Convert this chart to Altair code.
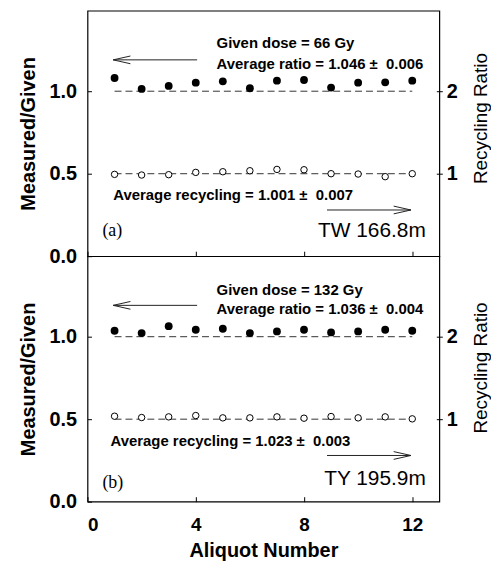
import altair as alt
import pandas as pd

# ---------------- data ----------------
aliquot = list(range(1, 13))
ratio_a = [1.080, 1.014, 1.032, 1.052, 1.060, 1.018, 1.064, 1.068, 1.022, 1.052, 1.054, 1.064]
recyc_a = [0.992, 0.984, 0.988, 1.016, 1.024, 1.036, 1.052, 1.048, 1.000, 0.996, 0.964, 1.000]
ratio_b = [1.036, 1.022, 1.064, 1.042, 1.048, 1.022, 1.032, 1.042, 1.026, 1.032, 1.042, 1.036]
recyc_b = [1.036, 1.020, 1.028, 1.044, 1.016, 1.016, 1.028, 1.012, 1.032, 1.016, 1.028, 1.004]

NB = "\u00a0"
dose_text = ["Given dose = 66 Gy", "Given dose = 132 Gy"]
ratio_text = ["Average ratio = 1.046 \u00b1" + NB + " 0.006",
              "Average ratio = 1.036 \u00b1" + NB + " 0.004"]
recyc_text = ["Average recycling = 1.001 \u00b1" + NB + " 0.007",
              "Average recycling = 1.023 \u00b1" + NB + " 0.003"]
panel_tag = ["(a)", "(b)"]
site_text = ["TW 166.8m", "TY 195.9m"]

x_ticks = [0, 4, 8, 12]
left_ticks = [0.0, 0.5, 1.0]
right_ticks = [1, 2]

X_DOM = [0, 13]
YL_DOM = [0, 1.488]
YR_DOM = [0, 2.976]

W, H = 354, 247
FONT = "Liberation Sans"

LEFT_ARROW = "M0,0 L2,-0.45 M0,0 L2,0.45"
RIGHT_ARROW = "M0,0 L-2,-0.45 M0,0 L-2,0.45"


def panel(ratio, recyc, i, bottom):
    xs = alt.Scale(domain=X_DOM, nice=False)
    yl = alt.Scale(domain=YL_DOM, nice=False)
    yr = alt.Scale(domain=YR_DOM, nice=False)

    if bottom:
        xaxis = alt.Axis(values=x_ticks, format="d", title="Aliquot Number",
                         offset=-5, tickSize=5, domain=False, grid=False,
                         labelPadding=14, labelFontSize=19, labelFontWeight="bold",
                         titleFontSize=20, titleFontWeight="bold", titlePadding=6)
    else:
        xaxis = alt.Axis(values=x_ticks, labels=False, title=None,
                         offset=-5, tickSize=5, domain=False, grid=False)

    laxis = alt.Axis(values=left_ticks, format=".1f", title="Measured/Given",
                     offset=-4, tickSize=4, domain=False, grid=False,
                     labelPadding=11, labelFontSize=20, labelFontWeight="bold",
                     titleFontSize=20, titleFontWeight="bold", titlePadding=11)
    raxis = alt.Axis(orient="right", values=right_ticks, format="d",
                     title="Recycling Ratio", offset=-3, tickSize=6,
                     domain=False, grid=False, labelPadding=4,
                     labelFontSize=20, labelFontWeight="bold",
                     titleFontSize=19, titleFontWeight="normal",
                     titleAngle=270, titleBaseline="top", titlePadding=14,
                     titleY=108 if i == 0 else 112)

    pts = pd.DataFrame({"n": aliquot, "v": ratio})
    rec = pd.DataFrame({"n": aliquot, "v": recyc})
    ref_l = pd.DataFrame({"x1": [1], "x2": [12], "y": [1.0]})
    ref_r = pd.DataFrame({"x1": [1], "x2": [12], "y": [1.0]})

    ann = pd.DataFrame({
        "x": [4.77, 4.77, 0.95 if i == 0 else 0.85],
        "y": [1.29 if i == 0 else 1.28, 1.165, 0.37],
        "t": [dose_text[i], ratio_text[i], recyc_text[i]],
    })
    tag = pd.DataFrame({"x": [0.55], "y": [0.15 if i == 0 else 0.11], "t": [panel_tag[i]]})
    site = pd.DataFrame({"x": [12.5], "y": [0.155 if i == 0 else 0.14], "t": [site_text[i]]})
    shafts = pd.DataFrame({"x1": [0.95, 8.85], "x2": [4.05, 11.95],
                           "y": [1.19, 0.28]})
    lhead = pd.DataFrame({"x": [0.95], "y": [1.19]})
    rhead = pd.DataFrame({"x": [11.95], "y": [0.28]})

    X = lambda f: alt.X(f, type="quantitative", scale=xs, axis=xaxis)
    YL = lambda f: alt.Y(f, type="quantitative", scale=yl, axis=laxis)
    YR = lambda f: alt.Y(f, type="quantitative", scale=yr, axis=raxis)

    left = alt.layer(
        alt.Chart(ref_l).mark_rule(color="#333", strokeWidth=1, strokeDash=[7, 4]).encode(
            x=X("x1"), x2="x2", y=YL("y")),
        alt.Chart(pts).mark_point(filled=True, color="black", size=62, opacity=1).encode(
            x=X("n"), y=YL("v")),
        alt.Chart(ann).mark_text(align="left", baseline="middle", font=FONT,
                                 fontSize=15, fontWeight="bold", color="black").encode(
            x=X("x"), y=YL("y"), text="t:N"),
        alt.Chart(tag).mark_text(align="left", baseline="middle", font="Liberation Serif",
                                 fontSize=18, color="black").encode(
            x=X("x"), y=YL("y"), text="t:N"),
        alt.Chart(site).mark_text(align="right", baseline="middle", font=FONT,
                                  fontSize=21, color="black").encode(
            x=X("x"), y=YL("y"), text="t:N"),
        alt.Chart(shafts).mark_rule(color="#222", strokeWidth=1).encode(
            x=X("x1"), x2="x2", y=YL("y")),
        alt.Chart(lhead).mark_point(shape=LEFT_ARROW, size=300, filled=False,
                                    color="#222", strokeWidth=1, opacity=1).encode(
            x=X("x"), y=YL("y")),
        alt.Chart(rhead).mark_point(shape=RIGHT_ARROW, size=300, filled=False,
                                    color="#222", strokeWidth=1, opacity=1).encode(
            x=X("x"), y=YL("y")),
    )
    right = alt.layer(
        alt.Chart(ref_r).mark_rule(color="#333", strokeWidth=1, strokeDash=[7, 4]).encode(
            x=X("x1"), x2="x2", y=YR("y")),
        alt.Chart(rec).mark_point(fill="white", stroke="black", strokeWidth=1,
                                  size=42, opacity=1, fillOpacity=1).encode(
            x=X("n"), y=YR("v")),
    )
    return alt.layer(left, right).resolve_scale(y="independent").properties(
        width=W, height=H)


top = panel(ratio_a, recyc_a, 0, False)
bot = panel(ratio_b, recyc_b, 1, True)

chart = alt.vconcat(top, bot, spacing=0, bounds="flush").properties(
    padding={"left": 9, "top": 0, "right": 0, "bottom": 2}
).configure_view(
    stroke="black", strokeWidth=1.2
).configure_axis(
    labelColor="black", titleColor="black", tickColor="black",
    labelFont=FONT, titleFont=FONT, tickWidth=1
).configure_concat(spacing=0)

chart.save("out.html", embed_options={"renderer": "svg", "actions": False})
